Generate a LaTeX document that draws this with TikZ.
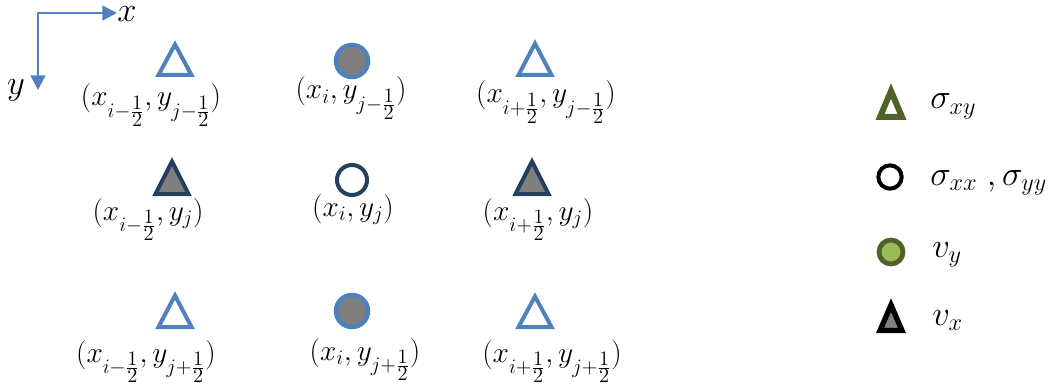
\RequirePackage{fix-cm}
\documentclass[tikz,border=0pt]{standalone}
\usetikzlibrary{arrows.meta}
\definecolor{ablue}{HTML}{4F81BD}
\definecolor{navy}{HTML}{243F60}
\definecolor{olive}{HTML}{4F6228}
\definecolor{lgreen}{HTML}{9BBB59}
\definecolor{mgray}{HTML}{7F7F7F}
\newcommand\hf{\frac{\scriptstyle 1}{\scriptstyle 2}}
% name, cx, apex y, base y, half width, style
\newcommand\tri[6]{%
  \coordinate (#1) at (#2,{(#3+#4)/2});
  \draw[#6] (#2,#3) -- ({#2+#5},#4) -- ({#2-#5},#4) -- cycle;}
\begin{document}
\begin{tikzpicture}[x=0.75pt,y=-0.75pt,
  lbl/.style={anchor=base,inner sep=0pt,font=\fontsize{22}{26}\selectfont},
  leg/.style={anchor=base west,inner sep=0pt,font=\fontsize{26}{30}\selectfont},
  opentri/.style={draw=ablue,line width=3pt},
  darktri/.style={draw=navy,fill=mgray,line width=3pt},
  bluecirc/.style={circle,draw=ablue,fill=mgray,line width=3.4pt,minimum size=24pt,inner sep=0pt},
  navycirc/.style={circle,draw=navy,line width=3pt,minimum size=22.5pt,inner sep=0pt},
  axis/.style={draw=ablue,line width=1.9pt,{Triangle[length=11pt,width=11pt]}-{Triangle[length=11pt,width=11pt]}}]
\useasboundingbox (0,0) rectangle (1062,392);
% axes
\coordinate (O) at (38,13);
\coordinate (X) at (117,13);
\coordinate (Y) at (38,90);
\draw[axis] (X) -- (O) -- (Y);
\node[font=\fontsize{26}{30}\selectfont,inner sep=0pt] (xl) at (127,14) {$x$};
\node[font=\fontsize{26}{30}\selectfont,inner sep=0pt] (yl) at (16,90) {$y$};
% row 1
\tri{t11}{175}{44.5}{75}{16.5}{opentri}
\node[bluecirc] (c12) at (352,61) {};
\tri{t13}{535}{43.5}{75}{16.5}{opentri}
\node[lbl] (l11) at (151,106) {$(x_{i-\hf},y_{j-\hf})$};
\node[lbl] (l12) at (351,99) {$(x_i,y_{j-\hf})$};
\node[lbl] (l13) at (546,103) {$(x_{i+\hf},y_{j-\hf})$};
% row 2
\tri{t21}{172}{161.5}{194}{16.5}{darktri}
\node[navycirc] (c22) at (352,180) {};
\tri{t23}{532}{161.5}{194}{16.5}{darktri}
\node[lbl] (l21) at (148,220) {$(x_{i-\hf},y_j)$};
\node[lbl] (l22) at (353,216) {$(x_i,y_j)$};
\node[lbl] (l23) at (538,220) {$(x_{i+\hf},y_j)$};
% row 3
\tri{t31}{175}{295.5}{327}{16.5}{opentri}
\node[bluecirc] (c32) at (352,311) {};
\tri{t33}{535}{296.5}{327}{16.5}{opentri}
\node[lbl] (l31) at (146,362) {$(x_{i-\hf},y_{j+\hf})$};
\node[lbl] (l32) at (365,360) {$(x_i,y_{j+\hf})$};
\node[lbl] (l33) at (552,362) {$(x_{i+\hf},y_{j+\hf})$};
% legend
\tri{g1}{891}{91}{117}{11}{draw=olive,line width=4.5pt}
\node[leg] (s1) at (930,109) {$\sigma_{xy}$};
\node[circle,draw=black,line width=3pt,minimum size=17.5pt,inner sep=0pt] (g2) at (890,177) {};
\node[leg] (s2) at (930,185) {$\sigma_{xx}\;,\sigma_{yy}$};
\node[circle,draw=olive,fill=lgreen,line width=3.6pt,minimum size=18pt,inner sep=0pt] (g3) at (891,252) {};
\node[leg] (s3) at (932,257) {$v_y$};
\tri{g4}{891}{305}{330.5}{11}{draw=black,fill=mgray,line width=4pt}
\node[leg] (s4) at (932,325) {$v_x$};
\end{tikzpicture}
\end{document}
